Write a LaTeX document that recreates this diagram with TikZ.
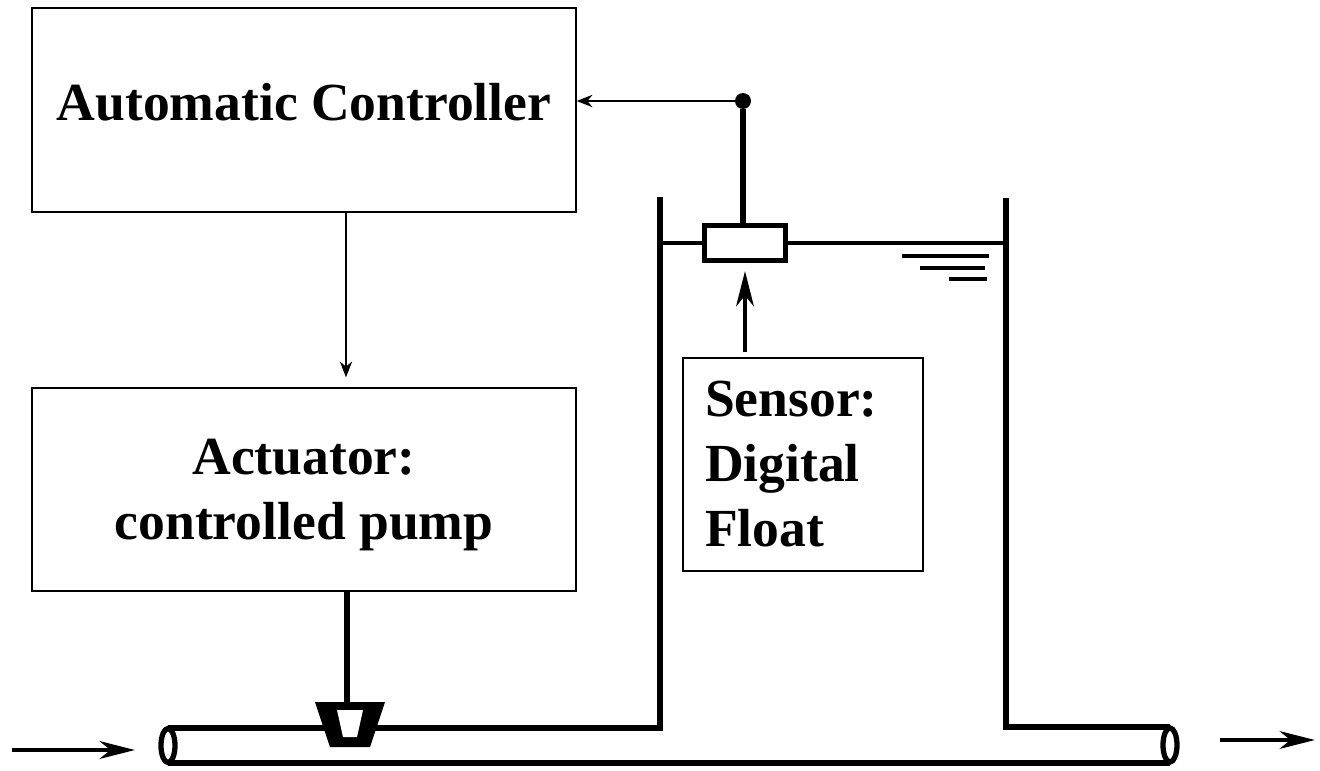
\documentclass[tikz,border=0pt]{standalone}
\usepackage{fontspec}
\setmainfont{Liberation Serif}
\usetikzlibrary{arrows.meta,calc}
\tikzstyle{every picture}+=[x=0.02cm,y=-0.02cm]
\tikzstyle{block}=[draw, line width=0.8pt, inner sep=0pt, font=\fontsize{30.5}{37}\selectfont\bfseries]
\tikzstyle{wire}=[line width=1.1pt, -{Stealth[length=9pt,width=7pt]}]
\tikzstyle{pipe}=[line width=3pt]
\tikzstyle{flow}=[line width=2.8pt, -{Stealth[length=20pt,width=10pt,inset=6pt]}]

\begin{document}
\begin{tikzpicture}
%\draw[help lines] (0,0) grid[step=20] (1320,771);
\useasboundingbox (0,0) rectangle (1320,771);

\node[block, minimum width=10.88cm, minimum height=4.08cm, text depth=0.32cm] (ctrl) at (304,110) {Automatic Controller};
\node[block, minimum width=10.88cm, minimum height=4.06cm, align=center, text depth=0pt] (act) at (304,489.5) {Actuator:\\controlled pump};
\node[block, minimum width=4.8cm, minimum height=4.26cm, inner xsep=0.44cm, text width=3.92cm, align=left] (sensor) at (803,464.5) {Sensor:\\Digital\\Float};

\draw[pipe] (168,728) -- (660,728) -- (660,197);%left wall
\draw[pipe] (1006,198) -- (1006,727) -- (1170,727);%right wall
\draw[pipe] (168,763) -- (1170,763);%pipe bottom
\draw[pipe, fill=white] (168,745.5) ellipse (0.14cm and 0.34cm);%inlet end
\draw[pipe, fill=white] (1170,745) ellipse (0.14cm and 0.34cm);%outlet end

\node[draw, line width=2.8pt, fill=white, minimum width=1.62cm, minimum height=0.7cm, inner sep=0pt] (float) at (745,243) {};
\node[circle, fill, minimum size=0.32cm, inner sep=0pt] (tap) at (743,101) {};

\draw[line width=2.2pt] (660,243) -- (float.west) (float.east) -- (1006,243);%water level
\draw[line width=1.8pt] (902,256) -- (989,256) (920,268) -- (985,268) (949,279) -- (987,279);%level marks

\fill (315,702) -- (385,702) -- (370,747) -- (330,747) -- cycle;%pump
\fill[white] (337,710) -- (363,710) -- (357,737) -- (343,737) -- cycle;
\coordinate (pump) at (347,702);

\draw[pipe] (tap) -- (tap |- float.north);
\draw[wire] (tap) -- (tap -| ctrl.east);
\draw[wire] ([xshift=0.84cm]ctrl.south) -- ([xshift=0.84cm,yshift=0.2cm]act.north);
\draw[pipe] (act.south -| pump) -- (pump);
\draw[flow, shorten <=0.1cm, shorten >=0.16cm] (sensor.north -| float.south) -- (float.south);

\coordinate (in1) at (12,750);
\coordinate (in2) at (135,750);
\coordinate (out1) at (1220,740);
\coordinate (out2) at (1315,740);
\draw[flow] (in1) -- (in2);
\draw[flow] (out1) -- (out2);
\end{tikzpicture}
\end{document}
